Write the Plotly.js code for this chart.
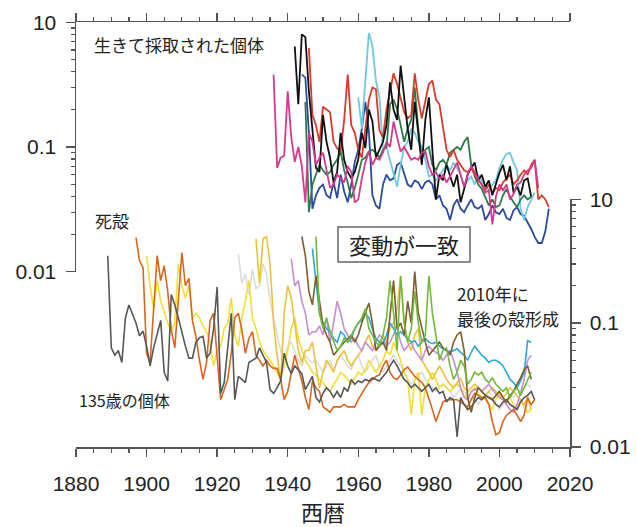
<!DOCTYPE html>
<html><head><meta charset="utf-8">
<script src="https://cdn.plot.ly/plotly-3.0.1.min.js"></script>
<style>html,body{margin:0;padding:0;background:#fff}</style>
</head><body><div id="chart" style="width:637px;height:527px"></div>
<script>
// ---- tick labels ----
const xTickYears = [1880,1900,1920,1940,1960,1980,2000,2020];
const yTickVals = [1, 0.1, 0.01];
const yTickText = ["10","0.1","0.01"];
const yMinorVals = [0.9,0.8,0.7,0.6,0.5,0.4,0.3,0.2,0.09,0.08,0.07,0.06,0.05,0.04,0.03,0.02];

// ---- upper panel: live-collected individuals (start year + yearly values) ----
const liveMagentaStart = 1936;
const liveMagenta = [.38,.068,.082,.085,
 .28,.12,.076,.10,.07,.036,.13,.11,.072,.082,
 .09,.063,.047,.05,.06,.056,.052,.07,.063,.036,
 .038,.056,.075,.092,.072,.082,.079,.09,.11,.1,
 .16,.12,.092,.1,.09,.079,.082,.079,.09,.092,
 .07,.06,.063,.055,.06,.052,.058,.067,.075,.06,
 .048,.06,.07,.063,.055,.05,.043,.045,.024,.04,
 .05,.045,.05,.038,.042,.05,.052,.06,.065,.068,
 .079,.047];
const liveBlackStart = 1942;
const liveBlack = [.64,.22,.8,.76,.28,.14,.068,.063,
 .18,.11,.082,.052,.063,.13,.079,.063,.056,.063,
 .08,.13,.098,.2,.16,.082,.095,.11,.15,.33,
 .2,.165,.45,.24,.14,.095,.23,.13,.072,.165,
 .25,.095,.038,.06,.054,.072,.058,.048,.06,.036,
 .046,.06,.068,.075,.054,.06,.048,.054,.041,.05,
 .062,.072,.054,.07,.043,.048,.041,.054,.056,.04];
const liveRedStart = 1946;
const liveRed = [.62,.18,.15,.11,
 .21,.2,.19,.11,.098,.092,.165,.38,.15,.13,
 .095,.082,.14,.24,.3,.29,.135,.12,.2,.28,
 .39,.32,.24,.19,.17,.18,.39,.24,.17,.24,
 .32,.34,.24,.22,.15,.095,.083,.095,.079,.072,
 .065,.063,.068,.06,.054,.05,.045,.05,.043,.047,
 .045,.052,.056,.06,.05,.054,.06,.065,.06,.072,
 .079,.038,.041,.038,.033];
const liveBlueStart = 1944;
const liveBlue = [.38,.36,.13,.032,.041,.047,
 .05,.041,.039,.052,.039,.06,.044,.036,.05,.076,
 .095,.14,.23,.135,.041,.034,.032,.05,.06,.054,
 .056,.072,.075,.06,.05,.048,.054,.052,.046,.052,
 .054,.05,.038,.041,.034,.032,.026,.034,.038,.032,
 .03,.034,.038,.033,.032,.034,.026,.029,.034,.03,
 .029,.032,.027,.026,.031,.033,.029,.028,.025,.022,
 .019,.017,.017,.021,.032];
const liveGreenStart = 1945;
const liveGreen = [.23,.03,.05,.06,.072,
 .065,.06,.063,.072,.079,.092,.065,.052,.039,.047,
 .06,.079,.082,.092,.095,.09,.082,.095,.1,.22,
 .24,.2,.15,.11,.14,.165,.3,.14,.079,.095,
 .1,.072,.065,.075,.079,.072,.09,.095,.1,.095,
 .11,.12,.072,.058,.05,.046,.04,.034,.038,.033,
 .034,.041,.046,.04,.036,.033,.038,.041,.038,.04];
const liveCyanStart = 1960;
const liveCyan = [.25,.14,.34,.82,.65,.34,.25,.095,.1,.079,
 .06,.048,.072,.1,.11,.14,.13,.11,.1,.079,
 .058,.06,.054,.06,.065,.072,.065,.075,.068,.06,
 .048,.054,.058,.05,.06,.054,.048,.046,.05,.054,
 .068,.079,.088,.09,.075,.065,.032,.026,.033,.038,
 .043];

// ---- lower panel: dead shells (start year + yearly values) ----
const deadGrayStart = 1889;
const deadGray = [.35,
 .063,.055,.06,.048,.11,.14,.12,.1,.079,.086,
 .065,.045,.063,.08,.105,.04,.034,.17,.14,.11,
 .082,.065,.052,.052,.07,.076,.078,.052,.057,.09,
 .195,.027,.033,.06,.12,.024,.037,.035,.033,.048,
 .05,.052,.063,.055,.048,.029,.027,.03,.034,.057,
 .045,.039,.045,.042,.039,.029,.033,.037,.025,.023,
 .027,.03,.028,.025,.028,.025,.03,.028,.035,.032,
 .034,.033,.035,.034,.036,.035,.034,.037,.04,.045,
 .05,.045,.04,.035,.033,.03,.032,.03,.028,.03,
 .032,.028,.03,.027,.028,.023,.025,.024,.012,.025,
 .022,.02,.021,.023,.025,.024,.026,.025,.024,.022,
 .021,.023,.024,.022,.021,.02,.023,.025,.026,.028,
 .024];
const deadOrangeStart = 1897;
const deadOrange = [.49,.32,.28,
 .057,.048,.145,.35,.22,.29,.18,.088,.063,.145,
 .37,.2,.23,.105,.077,.05,.035,.048,.105,.12,
 .05,.024,.029,.035,.057,.11,.12,.088,.057,.075,
 .085,.055,.05,.045,.05,.045,.043,.043,.035,.024,
 .028,.04,.055,.043,.034,.025,.02,.034,.03,.028,
 .021,.02,.019,.021,.021,.021,.022,.021,.021,.021,
 .024,.027,.03,.033,.035,.037,.038,.045,.05,.04,
 .036,.035,.038,.042,.044,.04,.037,.035,.033,.03,
 .025,.02,.016,.019,.023,.024,.024,.024,.024,.023,
 .022,.021,.024,.027,.026,.025,.025,.022,.016,.0125,
 .013,.016,.018,.019,.02,.018,.016,.018,.025,.022,
 .024];
const deadYellowStart = 1900;
const deadYellow = [.35,.2,.13,.22,.15,.12,.1,.085,.1,.3,
 .2,.16,.2,.11,.12,.11,.095,.085,.07,.045,
 .06,.065,.09,.1,.16,.08,.065,.11,.15,.22,
 .11,.09,.07,.06,.055,.05,.045,.04,.035,.045,
 .06,.09,.11,.075,.06,.05,.045,.04,.038,.035,
 .033,.03,.028,.032,.035,.04,.038,.035,.032,.036,
 .04,.038,.042,.05,.045,.04,.045,.05,.06,.055,
 .07,.06,.05,.04,.035,.018,.035,.04,.018,.03,
 .035,.04,.035,.03,.032,.03,.028,.03,.032,.03,
 .026,.025,.028,.03,.027,.025,.024,.022,.02,.024,
 .027,.025,.023,.025,.022,.02,.024,.021,.019,.02];
const deadLightGrayStart = 1926;
const deadLightGray = [.36,.21,.25,.17,
 .27,.19,.2,.3,.25,.15,.11,.08,.06,.05,
 .065,.07,.06,.05,.045,.055,.05,.048,.05,.045,
 .04,.045,.05,.042,.048,.055,.05,.045,.042,.05,
 .055,.045,.04,.045,.05,.055,.045,.04,.045,.05,
 .055,.05,.045,.04,.035,.032,.035,.038,.04,.035,
 .032,.03,.028,.03,.032,.03,.028,.025,.027,.029,
 .028,.026,.024,.025,.022,.024,.026,.028,.025,.022,
 .02,.022,.024,.026,.025,.027,.029,.03,.032,.03];
const deadGoldStart = 1931;
const deadGold = [.48,.21,.48,.5,.3,.1,.055,.034,.12,
 .2,.16,.1,.06,.048,.06,.06,.07,.045,.03,
 .04,.05,.045,.04,.05,.055,.06,.05,.045,.05,
 .055,.06,.07,.08,.065,.06,.07,.08,.07,.09,
 .1,.13,.24,.1,.07,.06,.08,.09,.05,.045,
 .04,.035,.04,.045,.04,.035,.032,.03,.033,.036,
 .03,.028,.03,.032,.03,.028,.026,.028,.03,.028,
 .026,.025,.027,.03,.028,.026,.024,.022,.025,.02];
const deadVioletStart = 1941;
const deadViolet = [.33,.2,.22,.15,.12,.08,.085,.085,.095,
 .08,.11,.07,.1,.15,.12,.09,.08,.07,.075,
 .065,.06,.07,.065,.06,.07,.08,.075,.065,.07,
 .08,.093,.07,.06,.065,.07,.06,.055,.05,.06,
 .065,.06,.058,.055,.05,.055,.06,.05,.04,.03,
 .025,.024,.028,.029,.03,.028,.03,.032,.029,.027,
 .025,.024,.022,.02,.019,.022,.027,.035,.05,.055];
const deadOliveStart = 1944;
const deadOlive = [.5,.35,.18,.14,.24,.15,
 .095,.08,.07,.055,.06,.065,.07,.075,.08,.07,
 .08,.1,.12,.145,.1,.06,.065,.07,.06,.12,
 .22,.09,.1,.08,.15,.1,.26,.12,.09,.07,
 .055,.06,.065,.07,.063,.06,.055,.07,.08,.085,
 .06,.025,.019,.025,.03,.028,.026,.025,.024,.026,
 .028,.025,.023,.026,.028,.032,.036,.042,.045,.035];
const deadSkyStart = 1947;
const deadSky = [.4,.21,.12,
 .1,.09,.085,.075,.07,.085,.08,.07,.075,.09,
 .1,.105,.12,.11,.09,.075,.07,.068,.08,.1,
 .09,.08,.085,.08,.075,.07,.072,.065,.07,.075,
 .07,.068,.07,.065,.062,.06,.058,.06,.062,.058,
 .055,.05,.058,.065,.06,.055,.052,.048,.05,.05,
 .048,.045,.04,.035,.033,.03,.034,.04,.072,.07];
const deadGreenStart = 1948;
const deadGreen = [.5,.12,
 .09,.11,.085,.07,.06,.065,.075,.07,.08,.09,
 .1,.11,.13,.09,.08,.07,.065,.08,.11,.22,
 .12,.06,.24,.1,.07,.09,.18,.1,.07,.08,
 .24,.12,.08,.05,.06,.063,.045,.035,.04,.05,
 .045,.032,.035,.04,.038,.04,.035,.033,.036,.032,
 .03,.028,.03,.025,.028,.03,.026,.03,.035,.04];

function years(start, vals){ return vals.map((v,i)=>start+i); }
function line(start, vals, color, xa, ya, w){
  return {x: years(start, vals), y: vals, type:'scatter', mode:'lines', xaxis:xa, yaxis:ya,
          line:{color:color, width:w}, hoverinfo:'skip'};
}

const traces = [
  // lower (dead shells)
  line(deadLightGrayStart, deadLightGray, '#dcdcdc', 'x','y2',1.6),
  line(deadYellowStart, deadYellow, '#f2df3a', 'x','y2',1.6),
  line(deadGoldStart, deadGold, '#eac23c', 'x','y2',1.6),
  line(deadVioletStart, deadViolet, '#c78fd2', 'x','y2',1.6),
  line(deadOrangeStart, deadOrange, '#d9661f', 'x','y2',1.6),
  line(deadGrayStart, deadGray, '#575757', 'x','y2',1.6),
  line(deadSkyStart, deadSky, '#2ea6d8', 'x','y2',1.6),
  line(deadOliveStart, deadOlive, '#7b5e2a', 'x','y2',1.6),
  line(deadGreenStart, deadGreen, '#70b93c', 'x','y2',1.6),
  // upper (live collected)
  line(liveBlueStart, liveBlue, '#2c4a9e', 'x2','y',1.8),
  line(liveCyanStart, liveCyan, '#74c8dc', 'x2','y',1.8),
  line(liveGreenStart, liveGreen, '#2f7a4a', 'x2','y',1.8),
  line(liveRedStart, liveRed, '#d93b2b', 'x2','y',1.8),
  line(liveBlackStart, liveBlack, '#111111', 'x2','y',1.8),
  line(liveMagentaStart, liveMagenta, '#d63a8c', 'x2','y',1.8)
];

const axCol = '#555';
const xCommon = {range:[1880,2020], tickmode:'array', tickvals:xTickYears, ticks:'outside', ticklen:8, tickwidth:1.5,
  tickcolor:axCol, showline:true, linecolor:axCol, linewidth:1.5, showgrid:false, zeroline:false,
  minor:{tickmode:'linear', tick0:1880, dtick:5, ticks:'outside', ticklen:4, tickwidth:1.2, tickcolor:axCol, showgrid:false},
  tickfont:{size:21, color:'#222'}, ticklabelstandoff:9};
const yCommon = {type:'log', range:[-2.002,0.002], tickmode:'array', tickvals:yTickVals, ticktext:yTickText,
  ticks:'outside', ticklen:9, tickwidth:1.5, tickcolor:axCol, showline:true, linecolor:axCol, linewidth:1.5,
  showgrid:false, zeroline:false,
  minor:{tickmode:'array', tickvals:yMinorVals, ticks:'outside', ticklen:4, tickwidth:1.2, tickcolor:axCol, showgrid:false},
  tickfont:{size:21, color:'#222'}, ticklabelstandoff:5};

const jp = 'Noto Sans CJK JP, sans-serif';
const layout = {
  width:637, height:527,
  margin:{l:76, r:67, t:22, b:80},
  paper_bgcolor:'#ffffff', plot_bgcolor:'rgba(0,0,0,0)',
  showlegend:false,
  font:{family:'Liberation Sans, Arial, sans-serif', size:21, color:'#222'},
  xaxis: Object.assign({}, xCommon, {domain:[0,1], anchor:'y2', side:'bottom',
    title:{text:'西暦', font:{family:jp, size:22, color:'#222'}, standoff:10}}),
  xaxis2: Object.assign({}, xCommon, {domain:[0,1], anchor:'y', side:'top', showticklabels:false}),
  yaxis: Object.assign({}, yCommon, {domain:[0.4118,1], anchor:'x2', side:'left'}),
  yaxis2: Object.assign({}, yCommon, {domain:[0,0.5835], anchor:'x', side:'right'}),
  shapes:[{type:'rect', xref:'paper', yref:'paper', x0:0.5304, x1:0.7976, y0:0.4353, y1:0.5176,
    line:{color:'#666', width:1.5}, fillcolor:'rgba(255,255,255,0)'}],
  annotations:[
    {text:'生きて採取された個体', xref:'paper', yref:'paper', x:0.0324, y:0.9459, xanchor:'left', yanchor:'middle', showarrow:false, font:{family:jp, size:17, color:'#222'}},
    {text:'死殻', xref:'paper', yref:'paper', x:0.0344, y:0.5318, xanchor:'left', yanchor:'middle', showarrow:false, font:{family:jp, size:17, color:'#222'}},
    {text:'135歳の個体', xref:'paper', yref:'paper', x:0.002, y:0.1106, xanchor:'left', yanchor:'middle', showarrow:false, font:{family:jp, size:16, color:'#222'}},
    {text:'変動が一致', xref:'paper', yref:'paper', x:0.664, y:0.4765, xanchor:'center', yanchor:'middle', showarrow:false, font:{family:jp, size:22, color:'#222'}},
    {text:'2010年に', xref:'paper', yref:'paper', x:0.767, y:0.3612, xanchor:'left', yanchor:'middle', showarrow:false, font:{family:jp, size:17, color:'#222'}},
    {text:'最後の殻形成', xref:'paper', yref:'paper', x:0.767, y:0.3024, xanchor:'left', yanchor:'middle', showarrow:false, font:{family:jp, size:17, color:'#222'}}
  ]
};

Plotly.newPlot('chart', traces, layout, {displayModeBar:false, staticPlot:true});
</script>
</body></html>
